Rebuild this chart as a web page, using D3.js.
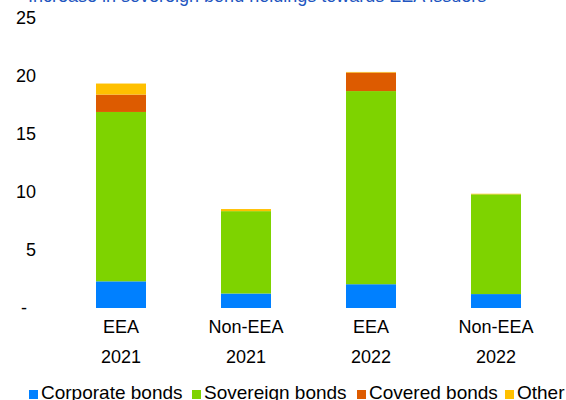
<!DOCTYPE html>
<html><head><meta charset="utf-8">
<script src="https://cdn.jsdelivr.net/npm/d3@7"></script>
<style>body{margin:0;background:#fff}svg{display:block}text{font-family:"Liberation Sans",Arial,sans-serif}</style>
</head><body><svg id="c" width="566" height="400"></svg>
<script>
const categories = ["EEA|2021","Non-EEA|2021","EEA|2022","Non-EEA|2022"];
const seriesNames = ["Corporate bonds","Sovereign bonds","Covered bonds","Other"];
const corporate = [2.3, 1.25, 2.05, 1.2];
const sovereign = [14.6, 7.1, 16.65, 8.6];
const covered = [1.5, 0.0, 1.6, 0.0];
const other = [0.95, 0.18, 0.05, 0.05];
const yTicks = [0,5,10,15,20,25];
const colors = ["#0080FF","#7ED300","#DD5B00","#FFC000"];
const titleText = "Increase in sovereign bond holdings towards EEA issuers";

const svg = d3.select("#c");
const rows = categories.map((c,i)=>({cat:c,"Corporate bonds":corporate[i],"Sovereign bonds":sovereign[i],"Covered bonds":covered[i],"Other":other[i]}));
const stack = d3.stack().keys(seriesNames)(rows);

const x = d3.scaleBand().domain(categories).range([58.5,558.5]).paddingInner(0.6).paddingOuter(0.3);
const y = d3.scaleLinear().domain([0,25]).range([308,18]);

svg.append("text").attr("x",28).attr("y",1.5).attr("fill","#2155C0").attr("font-size",18).text(titleText);

svg.selectAll("g.s").data(stack).join("g").attr("fill",(d,i)=>colors[i])
  .selectAll("rect").data(d=>d).join("rect")
  .attr("x",d=>x(d.data.cat)).attr("width",x.bandwidth())
  .attr("y",d=>y(d[1])).attr("height",d=>Math.max(0,y(d[0])-y(d[1])));

const yAxis = svg.append("g");
yAxis.selectAll("text").data(yTicks).join("text")
  .attr("x",d=>d===0?27:36).attr("y",d=>y(d)).attr("dy","0.35em")
  .attr("text-anchor","end").attr("font-size",18).attr("fill","#000")
  .text(d=>d===0?"-":d3.format("d")(d));

const xAxis = svg.append("g");
categories.forEach(c=>{
  const [a,b] = c.split("|");
  const cx = x(c)+x.bandwidth()/2;
  xAxis.append("text").attr("x",cx).attr("y",327).attr("dy","0.35em").attr("text-anchor","middle").attr("font-size",18).text(a);
  xAxis.append("text").attr("x",cx).attr("y",357).attr("dy","0.35em").attr("text-anchor","middle").attr("font-size",18).text(b);
});

const legX = [29,192,357,505];
const leg = svg.append("g");
seriesNames.forEach((n,i)=>{
  leg.append("rect").attr("x",legX[i]).attr("y",390).attr("width",9).attr("height",9).attr("fill",colors[i]);
  leg.append("text").attr("x",legX[i]+12).attr("y",399).attr("font-size",19).text(n);
});
</script></body></html>
